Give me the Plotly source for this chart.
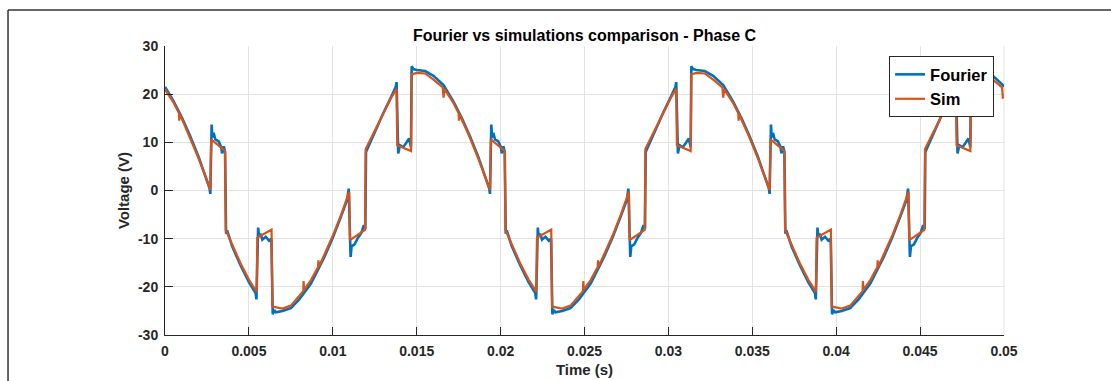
import plotly.graph_objects as go

# ---------------- data ----------------
fourier_t = [
    0.000000, 0.000500, 0.001000, 0.001500, 0.002000, 0.002500, 0.002650, 0.002700, 0.002740, 0.002780,
    0.002820, 0.002900, 0.003000, 0.003200, 0.003350, 0.003400, 0.003500, 0.003580, 0.003640, 0.003700,
    0.004000, 0.004500, 0.005000, 0.005400, 0.005450, 0.005500, 0.005550, 0.005600, 0.005700, 0.005800,
    0.006000, 0.006200, 0.006340, 0.006380, 0.006420, 0.006500, 0.006600, 0.007000, 0.007500, 0.008000,
    0.008700, 0.009500, 0.010000, 0.010500, 0.010850, 0.010950, 0.011000, 0.011060, 0.011120, 0.011300,
    0.011500, 0.011700, 0.011850, 0.011940, 0.011980, 0.012500, 0.013000, 0.013500, 0.013750, 0.013800,
    0.013850, 0.013900, 0.014000, 0.014200, 0.014400, 0.014550, 0.014660, 0.014700, 0.014800, 0.015000,
    0.015500, 0.016000, 0.016600,
    0.016667, 0.017167, 0.017667, 0.018167, 0.018667, 0.019167, 0.019317, 0.019367, 0.019407, 0.019447,
    0.019487, 0.019567, 0.019667, 0.019867, 0.020017, 0.020067, 0.020167, 0.020247, 0.020307, 0.020367,
    0.020667, 0.021167, 0.021667, 0.022067, 0.022117, 0.022167, 0.022217, 0.022267, 0.022367, 0.022467,
    0.022667, 0.022867, 0.023007, 0.023047, 0.023087, 0.023167, 0.023267, 0.023667, 0.024167, 0.024667,
    0.025367, 0.026167, 0.026667, 0.027167, 0.027517, 0.027617, 0.027667, 0.027727, 0.027787, 0.027967,
    0.028167, 0.028367, 0.028517, 0.028607, 0.028647, 0.029167, 0.029667, 0.030167, 0.030417, 0.030467,
    0.030517, 0.030567, 0.030667, 0.030867, 0.031067, 0.031217, 0.031327, 0.031367, 0.031467, 0.031667,
    0.032167, 0.032667, 0.033267,
    0.033333, 0.033833, 0.034333, 0.034833, 0.035333, 0.035833, 0.035983, 0.036033, 0.036073, 0.036113,
    0.036153, 0.036233, 0.036333, 0.036533, 0.036683, 0.036733, 0.036833, 0.036913, 0.036973, 0.037033,
    0.037333, 0.037833, 0.038333, 0.038733, 0.038783, 0.038833, 0.038883, 0.038933, 0.039033, 0.039133,
    0.039333, 0.039533, 0.039673, 0.039713, 0.039753, 0.039833, 0.039933, 0.040333, 0.040833, 0.041333,
    0.042033, 0.042833, 0.043333, 0.043833, 0.044183, 0.044283, 0.044333, 0.044393, 0.044453, 0.044633,
    0.044833, 0.045033, 0.045183, 0.045273, 0.045313, 0.045833, 0.046333, 0.046833, 0.047083, 0.047133,
    0.047183, 0.047233, 0.047333, 0.047533, 0.047733, 0.047883, 0.047993, 0.048033, 0.048133, 0.048333,
    0.048833, 0.049333, 0.049933, 0.050000,
]
fourier_v = [
    21.5, 18.6, 15.2, 11.3, 7.0, 2.2, 0.5, -0.7, 5.0, 13.7,
    11.0, 12.0, 10.6, 10.2, 9.0, 7.7, 9.2, 8.0, -9.0, -8.3,
    -11.6, -15.5, -19.0, -21.3, -22.6, -15.0, -7.7, -9.5, -9.0, -10.2,
    -9.6, -10.4, -10.0, -18.0, -25.7, -24.8, -25.3, -25.0, -24.4, -22.6,
    -19.3, -13.8, -9.8, -5.3, -2.0, 0.4, -5.0, -13.8, -11.6, -11.2,
    -9.8, -8.8, -7.2, -8.0, 8.0, 12.2, 16.0, 19.6, 21.5, 22.5,
    15.0, 7.7, 9.4, 9.0, 10.0, 10.8, 9.0, 25.8, 25.2, 25.0,
    24.8, 23.8, 21.9,
    21.5, 18.6, 15.2, 11.3, 7.0, 2.2, 0.5, -0.7, 5.0, 13.7,
    11.0, 12.0, 10.6, 10.2, 9.0, 7.7, 9.2, 8.0, -9.0, -8.3,
    -11.6, -15.5, -19.0, -21.3, -22.6, -15.0, -7.7, -9.5, -9.0, -10.2,
    -9.6, -10.4, -10.0, -18.0, -25.7, -24.8, -25.3, -25.0, -24.4, -22.6,
    -19.3, -13.8, -9.8, -5.3, -2.0, 0.4, -5.0, -13.8, -11.6, -11.2,
    -9.8, -8.8, -7.2, -8.0, 8.0, 12.2, 16.0, 19.6, 21.5, 22.5,
    15.0, 7.7, 9.4, 9.0, 10.0, 10.8, 9.0, 25.8, 25.2, 25.0,
    24.8, 23.8, 21.9,
    21.5, 18.6, 15.2, 11.3, 7.0, 2.2, 0.5, -0.7, 5.0, 13.7,
    11.0, 12.0, 10.6, 10.2, 9.0, 7.7, 9.2, 8.0, -9.0, -8.3,
    -11.6, -15.5, -19.0, -21.3, -22.6, -15.0, -7.7, -9.5, -9.0, -10.2,
    -9.6, -10.4, -10.0, -18.0, -25.7, -24.8, -25.3, -25.0, -24.4, -22.6,
    -19.3, -13.8, -9.8, -5.3, -2.0, 0.4, -5.0, -13.8, -11.6, -11.2,
    -9.8, -8.8, -7.2, -8.0, 8.0, 12.2, 16.0, 19.6, 21.5, 22.5,
    15.0, 7.7, 9.4, 9.0, 10.0, 10.8, 9.0, 25.8, 25.2, 25.0,
    24.8, 23.8, 21.9, 21.5,
]

sim_t = [
    0.000000, 0.000500, 0.000830, 0.000850, 0.000880, 0.001000, 0.001500, 0.002000, 0.002500, 0.002700,
    0.002750, 0.003580, 0.003620, 0.004000, 0.004500, 0.005000, 0.005460, 0.005500, 0.006350, 0.006400,
    0.007000, 0.007500, 0.008000, 0.008240, 0.008260, 0.008290, 0.008700, 0.009120, 0.009140, 0.009170,
    0.009500, 0.010000, 0.010500, 0.010980, 0.011020, 0.011920, 0.011960, 0.012500, 0.013000, 0.013500,
    0.013800, 0.013840, 0.014660, 0.014700, 0.015000, 0.015500, 0.016000, 0.016550, 0.016600,
    0.016667, 0.017167, 0.017497, 0.017517, 0.017547, 0.017667, 0.018167, 0.018667, 0.019167, 0.019367,
    0.019417, 0.020247, 0.020287, 0.020667, 0.021167, 0.021667, 0.022127, 0.022167, 0.023017, 0.023067,
    0.023667, 0.024167, 0.024667, 0.024907, 0.024927, 0.024957, 0.025367, 0.025787, 0.025807, 0.025837,
    0.026167, 0.026667, 0.027167, 0.027647, 0.027687, 0.028587, 0.028627, 0.029167, 0.029667, 0.030167,
    0.030467, 0.030507, 0.031327, 0.031367, 0.031667, 0.032167, 0.032667, 0.033217, 0.033267,
    0.033333, 0.033833, 0.034163, 0.034183, 0.034213, 0.034333, 0.034833, 0.035333, 0.035833, 0.036033,
    0.036083, 0.036913, 0.036953, 0.037333, 0.037833, 0.038333, 0.038793, 0.038833, 0.039683, 0.039733,
    0.040333, 0.040833, 0.041333, 0.041573, 0.041593, 0.041623, 0.042033, 0.042453, 0.042473, 0.042503,
    0.042833, 0.043333, 0.043833, 0.044313, 0.044353, 0.045253, 0.045293, 0.045833, 0.046333, 0.046833,
    0.047133, 0.047173, 0.047993, 0.048033, 0.048333, 0.048833, 0.049333, 0.049883, 0.049933, 0.050000,
]
sim_v = [
    21.0, 18.3, 16.1, 14.5, 15.9, 14.9, 11.0, 6.7, 2.2, 0.1,
    10.6, 8.2, -8.2, -11.2, -15.1, -18.5, -21.0, -9.8, -8.1, -24.1,
    -24.5, -23.9, -22.0, -20.9, -18.8, -20.6, -18.6, -15.9, -14.5, -15.8,
    -13.3, -9.4, -5.0, -0.3, -10.3, -8.2, 8.6, 12.4, 16.2, 19.4,
    21.1, 9.4, 8.2, 24.1, 24.4, 24.3, 23.0, 21.4, 19.3,
    21.0, 18.3, 16.1, 14.5, 15.9, 14.9, 11.0, 6.7, 2.2, 0.1,
    10.6, 8.2, -8.2, -11.2, -15.1, -18.5, -21.0, -9.8, -8.1, -24.1,
    -24.5, -23.9, -22.0, -20.9, -18.8, -20.6, -18.6, -15.9, -14.5, -15.8,
    -13.3, -9.4, -5.0, -0.3, -10.3, -8.2, 8.6, 12.4, 16.2, 19.4,
    21.1, 9.4, 8.2, 24.1, 24.4, 24.3, 23.0, 21.4, 19.3,
    21.0, 18.3, 16.1, 14.5, 15.9, 14.9, 11.0, 6.7, 2.2, 0.1,
    10.6, 8.2, -8.2, -11.2, -15.1, -18.5, -21.0, -9.8, -8.1, -24.1,
    -24.5, -23.9, -22.0, -20.9, -18.8, -20.6, -18.6, -15.9, -14.5, -15.8,
    -13.3, -9.4, -5.0, -0.3, -10.3, -8.2, 8.6, 12.4, 16.2, 19.4,
    21.1, 9.4, 8.2, 24.1, 24.4, 24.3, 23.0, 21.4, 19.3, 19.4,
]

x_tick_values = [0, 0.005, 0.01, 0.015, 0.02, 0.025, 0.03, 0.035, 0.04, 0.045, 0.05]
x_tick_labels = ["0", "0.005", "0.01", "0.015", "0.02", "0.025", "0.03", "0.035", "0.04", "0.045", "0.05"]
y_tick_values = [-30, -20, -10, 0, 10, 20, 30]
y_tick_labels = ["-30", "-20", "-10", "0", "10", "20", "30"]

# ---------------- figure ----------------
FONT = "Liberation Sans, Arial, Helvetica, sans-serif"
AXC = "#262626"
GRID = "#e3e3e3"

fig = go.Figure()
fig.add_trace(go.Scatter(x=fourier_t, y=fourier_v, mode="lines", name="Fourier",
                         line=dict(color="#0072BD", width=2.6)))
fig.add_trace(go.Scatter(x=sim_t, y=sim_v, mode="lines", name="Sim",
                         line=dict(color="#D95319", width=2.2)))

fig.update_layout(
    width=1111, height=381,
    margin=dict(l=165, r=107, t=46, b=46, autoexpand=False),
    paper_bgcolor="white", plot_bgcolor="white",
    font=dict(family=FONT, color=AXC),
    title=dict(text="Fourier vs simulations comparison - Phase C",
               font=dict(family=FONT, size=16, weight="bold", color="#000000"),
               x=0.5, xref="paper", xanchor="center",
               y=1 - 35 / 381, yref="container", yanchor="middle", automargin=False),
    showlegend=True,
    legend=dict(x=0.863, y=0.965, xanchor="left", yanchor="top",
                bgcolor="white", bordercolor=AXC, borderwidth=1,
                font=dict(family=FONT, size=16.5, weight="bold", color="#000000"),
                tracegroupgap=0),
    xaxis=dict(range=[0, 0.05], tickvals=x_tick_values, ticktext=x_tick_labels,
               automargin=False,
               showline=True, linecolor=AXC, linewidth=1, mirror=False,
               ticks="inside", ticklen=8, tickcolor=AXC, tickwidth=1,
               ticklabelstandoff=3,
               showgrid=True, gridcolor=GRID, gridwidth=1, zeroline=False,
               tickfont=dict(family=FONT, size=14, weight="bold", color=AXC),
               title=dict(text="Time (s)", standoff=6,
                          font=dict(family=FONT, size=15, weight="bold", color=AXC))),
    yaxis=dict(range=[-30, 30], tickvals=y_tick_values, ticktext=y_tick_labels,
               automargin=False,
               showline=True, linecolor=AXC, linewidth=1, mirror=False,
               ticks="inside", ticklen=8, tickcolor=AXC, tickwidth=1,
               ticklabelstandoff=3,
               showgrid=True, gridcolor=GRID, gridwidth=1, zeroline=False,
               tickfont=dict(family=FONT, size=14, weight="bold", color=AXC),
               title=dict(text="Voltage (V)", standoff=4,
                          font=dict(family=FONT, size=15, weight="bold", color=AXC))),
    shapes=[
        dict(type="line", xref="paper", yref="paper", x0=-0.1871, x1=1.2, y0=1.1246, y1=1.1246,
             line=dict(color="#333333", width=1.5)),
        dict(type="line", xref="paper", yref="paper", x0=-0.1871, x1=-0.1871, y0=1.1246, y1=-0.3,
             line=dict(color="#333333", width=1.5)),
        dict(type="line", xref="paper", yref="paper", x0=1, x1=1, y0=0, y1=1,
             line=dict(color=GRID, width=1), layer="below"),
    ],
)

fig.write_html("out.html")
